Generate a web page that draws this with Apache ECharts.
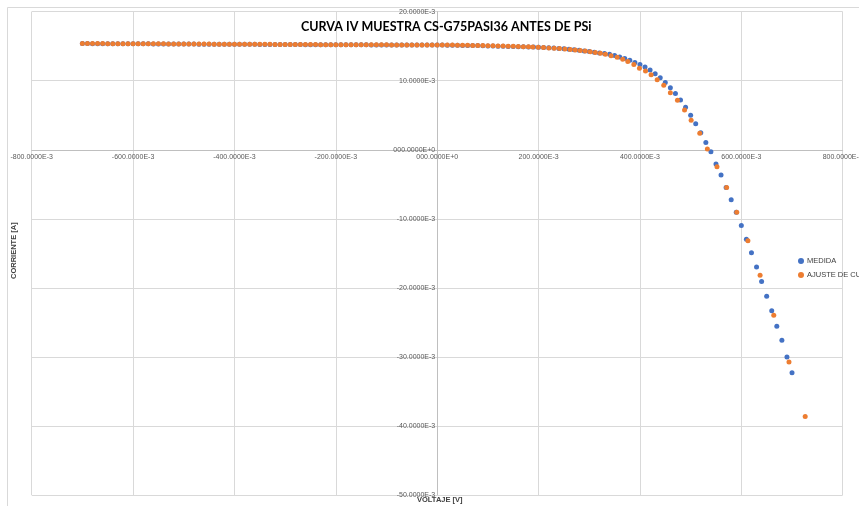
<!DOCTYPE html>
<html><head><meta charset="utf-8">
<script src="https://cdn.jsdelivr.net/npm/echarts@6/dist/echarts.min.js"></script>
<style>html,body{margin:0;padding:0;background:#fff}#c{width:859px;height:506px}</style>
</head><body><div id="c"></div>
<script>
// Voltages in mV, currents in mA
const medidaV = [-700,-690,-680,-670,-660,-650,-640,-630,-620,-610,-600,-590,-580,-570,-560,-550,-540,-530,-520,-510,-500,-490,-480,-470,-460,-450,-440,-430,-420,-410,-400,-390,-380,-370,-360,-350,-340,-330,-320,-310,-300,-290,-280,-270,-260,-250,-240,-230,-220,-210,-200,-190,-180,-170,-160,-150,-140,-130,-120,-110,-100,-90,-80,-70,-60,-50,-40,-30,-20,-10,
0,10,20,30,40,50,60,70,80,90,100,110,120,130,140,150,160,170,180,190,200,
210,220,230,240,250,260,270,280,290,300,310,320,330,340,350,360,370,380,390,400,410,420,430,440,450,460,470,480,490,500,510,520,530,540,550,560,570,580,590,600,610,620,630,640,650,660,670,680,690,700];
const medidaI = [15.38,15.38,15.37,15.37,15.37,15.36,15.36,15.36,15.35,15.35,15.35,15.34,15.34,15.34,15.33,15.33,15.33,15.32,15.32,15.32,15.31,15.31,15.31,15.30,15.30,15.30,15.29,15.29,15.29,15.28,15.28,15.28,15.27,15.27,15.27,15.26,15.26,15.26,15.25,15.25,15.25,15.24,15.24,15.24,15.23,15.23,15.23,15.22,15.22,15.22,15.21,15.21,15.21,15.20,15.20,15.20,15.20,15.19,15.19,15.19,15.19,15.18,15.18,15.18,15.18,15.17,15.17,15.17,15.17,15.17,
15.17,15.16,15.15,15.14,15.13,15.12,15.11,15.10,15.09,15.07,15.05,15.03,15.01,14.99,14.97,14.95,14.93,14.91,14.89,14.87,14.84,
14.81,14.77,14.73,14.68,14.62,14.56,14.49,14.41,14.32,14.23,14.13,14.03,13.94,13.82,13.66,13.45,13.22,12.98,12.65,12.35,12.00,11.55,11.00,10.45,9.75,9.00,8.15,7.20,6.15,5.00,3.77,2.46,1.07,-0.30,-2.07,-3.67,-5.45,-7.25,-9.03,-10.96,-12.94,-14.93,-16.96,-19.07,-21.20,-23.33,-25.55,-27.60,-30.00,-32.30];

const ajusteV = [-700,-690,-680,-670,-660,-650,-640,-630,-620,-610,-600,-590,-580,-570,-560,-550,-540,-530,-520,-510,-500,-490,-480,-470,-460,-450,-440,-430,-420,-410,-400,-390,-380,-370,-360,-350,-340,-330,-320,-310,-300,-290,-280,-270,-260,-250,-240,-230,-220,-210,-200,-190,-180,-170,-160,-150,-140,-130,-120,-110,-100,-90,-80,-70,-60,-50,-40,-30,-20,-10,
0,10,20,30,40,50,60,70,80,90,100,110,120,130,140,150,160,170,180,
188.6,199.2,209.7,220.4,230.9,241.3,252,262.5,272.4,282.3,292.2,302,312,321.9,331.8,343,355,366,376,388,399,411,422,434,447,460,474,488,501,518,533,552,571,591,613,637,664,694,726];
const ajusteI = [15.39,15.39,15.38,15.38,15.38,15.37,15.37,15.37,15.36,15.36,15.36,15.35,15.35,15.35,15.34,15.34,15.34,15.33,15.33,15.33,15.32,15.32,15.32,15.31,15.31,15.31,15.30,15.30,15.30,15.29,15.29,15.29,15.28,15.28,15.28,15.27,15.27,15.27,15.26,15.26,15.26,15.25,15.25,15.25,15.24,15.24,15.24,15.23,15.23,15.23,15.22,15.22,15.22,15.21,15.21,15.21,15.21,15.20,15.20,15.20,15.20,15.19,15.19,15.19,15.19,15.18,15.18,15.18,15.18,15.18,
15.19,15.18,15.17,15.16,15.15,15.14,15.13,15.12,15.11,15.09,15.07,15.06,15.04,15.02,15.00,14.98,14.96,14.94,14.92,
14.88,14.85,14.80,14.76,14.71,14.66,14.60,14.53,14.46,14.38,14.30,14.20,14.08,13.97,13.83,13.62,13.39,13.13,12.78,12.34,11.80,11.41,10.87,10.14,9.33,8.26,7.16,5.75,4.26,2.38,0.10,-2.46,-5.45,-9.03,-13.19,-18.16,-23.96,-30.72,-38.64];

const xTicks = [-800,-600,-400,-200,0,200,400,600,800];
const yTicks = [-50,-40,-30,-20,-10,0,10,20];
const seriesNames = ['MEDIDA','AJUSTE DE CURVA'];

function fmt(v){ return v === 0 ? '000.0000E+0' : v.toFixed(4) + 'E-3'; }

const chart = echarts.init(document.getElementById('c'), null, {renderer:'canvas'});
const opt = {
  animation:false,
  backgroundColor:'#fff',
  title:{text:'CURVA IV MUESTRA CS-G75PASI36 ANTES DE PSi', left:296, top:15,
    textStyle:{fontFamily:'Lato', fontWeight:'bold', fontSize:12.5, color:'#000'}},
  legend:{data:seriesNames, orient:'vertical', left:798, top:257, itemGap:6, itemWidth:6, itemHeight:6,
    icon:'circle', padding:0, textStyle:{fontSize:7.5, color:'#404040', fontFamily:'Liberation Sans', padding:[0,0,0,-2]}},
  grid:{left:31.7, right:16.3, top:11.7, bottom:11, containLabel:false, outerBoundsMode:'none'},
  xAxis:{type:'value', min:xTicks[0], max:xTicks[xTicks.length-1], interval:200, position:'bottom', offset:0,
    axisLine:{onZero:false, lineStyle:{color:'#bfbfbf'}}, axisTick:{show:false},
    axisLabel:{formatter:fmt, fontSize:7, color:'#595959', margin:4, fontFamily:'Liberation Sans'},
    splitLine:{lineStyle:{color:'#d9d9d9'}}},
  yAxis:{type:'value', min:yTicks[0], max:yTicks[yTicks.length-1], interval:10, position:'left', offset:0,
    axisLine:{onZero:false, lineStyle:{color:'#bfbfbf'}}, axisTick:{show:false},
    axisLabel:{formatter:fmt, fontSize:7, color:'#595959', margin:2, fontFamily:'Liberation Sans'},
    splitLine:{lineStyle:{color:'#d9d9d9'}}},
  graphic:[
    {type:'rect', shape:{x:7.5, y:7.5, width:900, height:600}, style:{fill:'none', stroke:'#d9d9d9', lineWidth:1}, silent:true, z:-10},
    {type:'text', x:417, y:496, style:{text:'VOLTAJE [V]', fontSize:7.5, fontWeight:'bold', fill:'#404040', fontFamily:'Liberation Sans'}},
    {type:'text', x:10, y:279, rotation:Math.PI/2, style:{text:'CORRIENTE [A]', fontSize:7.5, fontWeight:'bold', fill:'#404040', fontFamily:'Liberation Sans'}}
  ],
  series:[
    {name:seriesNames[0], type:'scatter', symbol:'circle', symbolSize:5, itemStyle:{color:'#4472C4', opacity:1},
      data: medidaV.map((v,i)=>[v, medidaI[i]])},
    {name:seriesNames[1], type:'scatter', symbol:'circle', symbolSize:5, itemStyle:{color:'#ED7D31', opacity:1},
      data: ajusteV.map((v,i)=>[v, ajusteI[i]])}
  ]
};
chart.setOption(opt);
// place the axes through the origin (Excel style) using the library's own scales
const origin = chart.convertToPixel({gridIndex:0}, [0, 0]);
const bottomLeft = chart.convertToPixel({gridIndex:0}, [xTicks[0], yTicks[0]]);
chart.setOption({
  xAxis:{offset: origin[1] - bottomLeft[1]},
  yAxis:{offset: bottomLeft[0] - origin[0]}
});
</script></body></html>
